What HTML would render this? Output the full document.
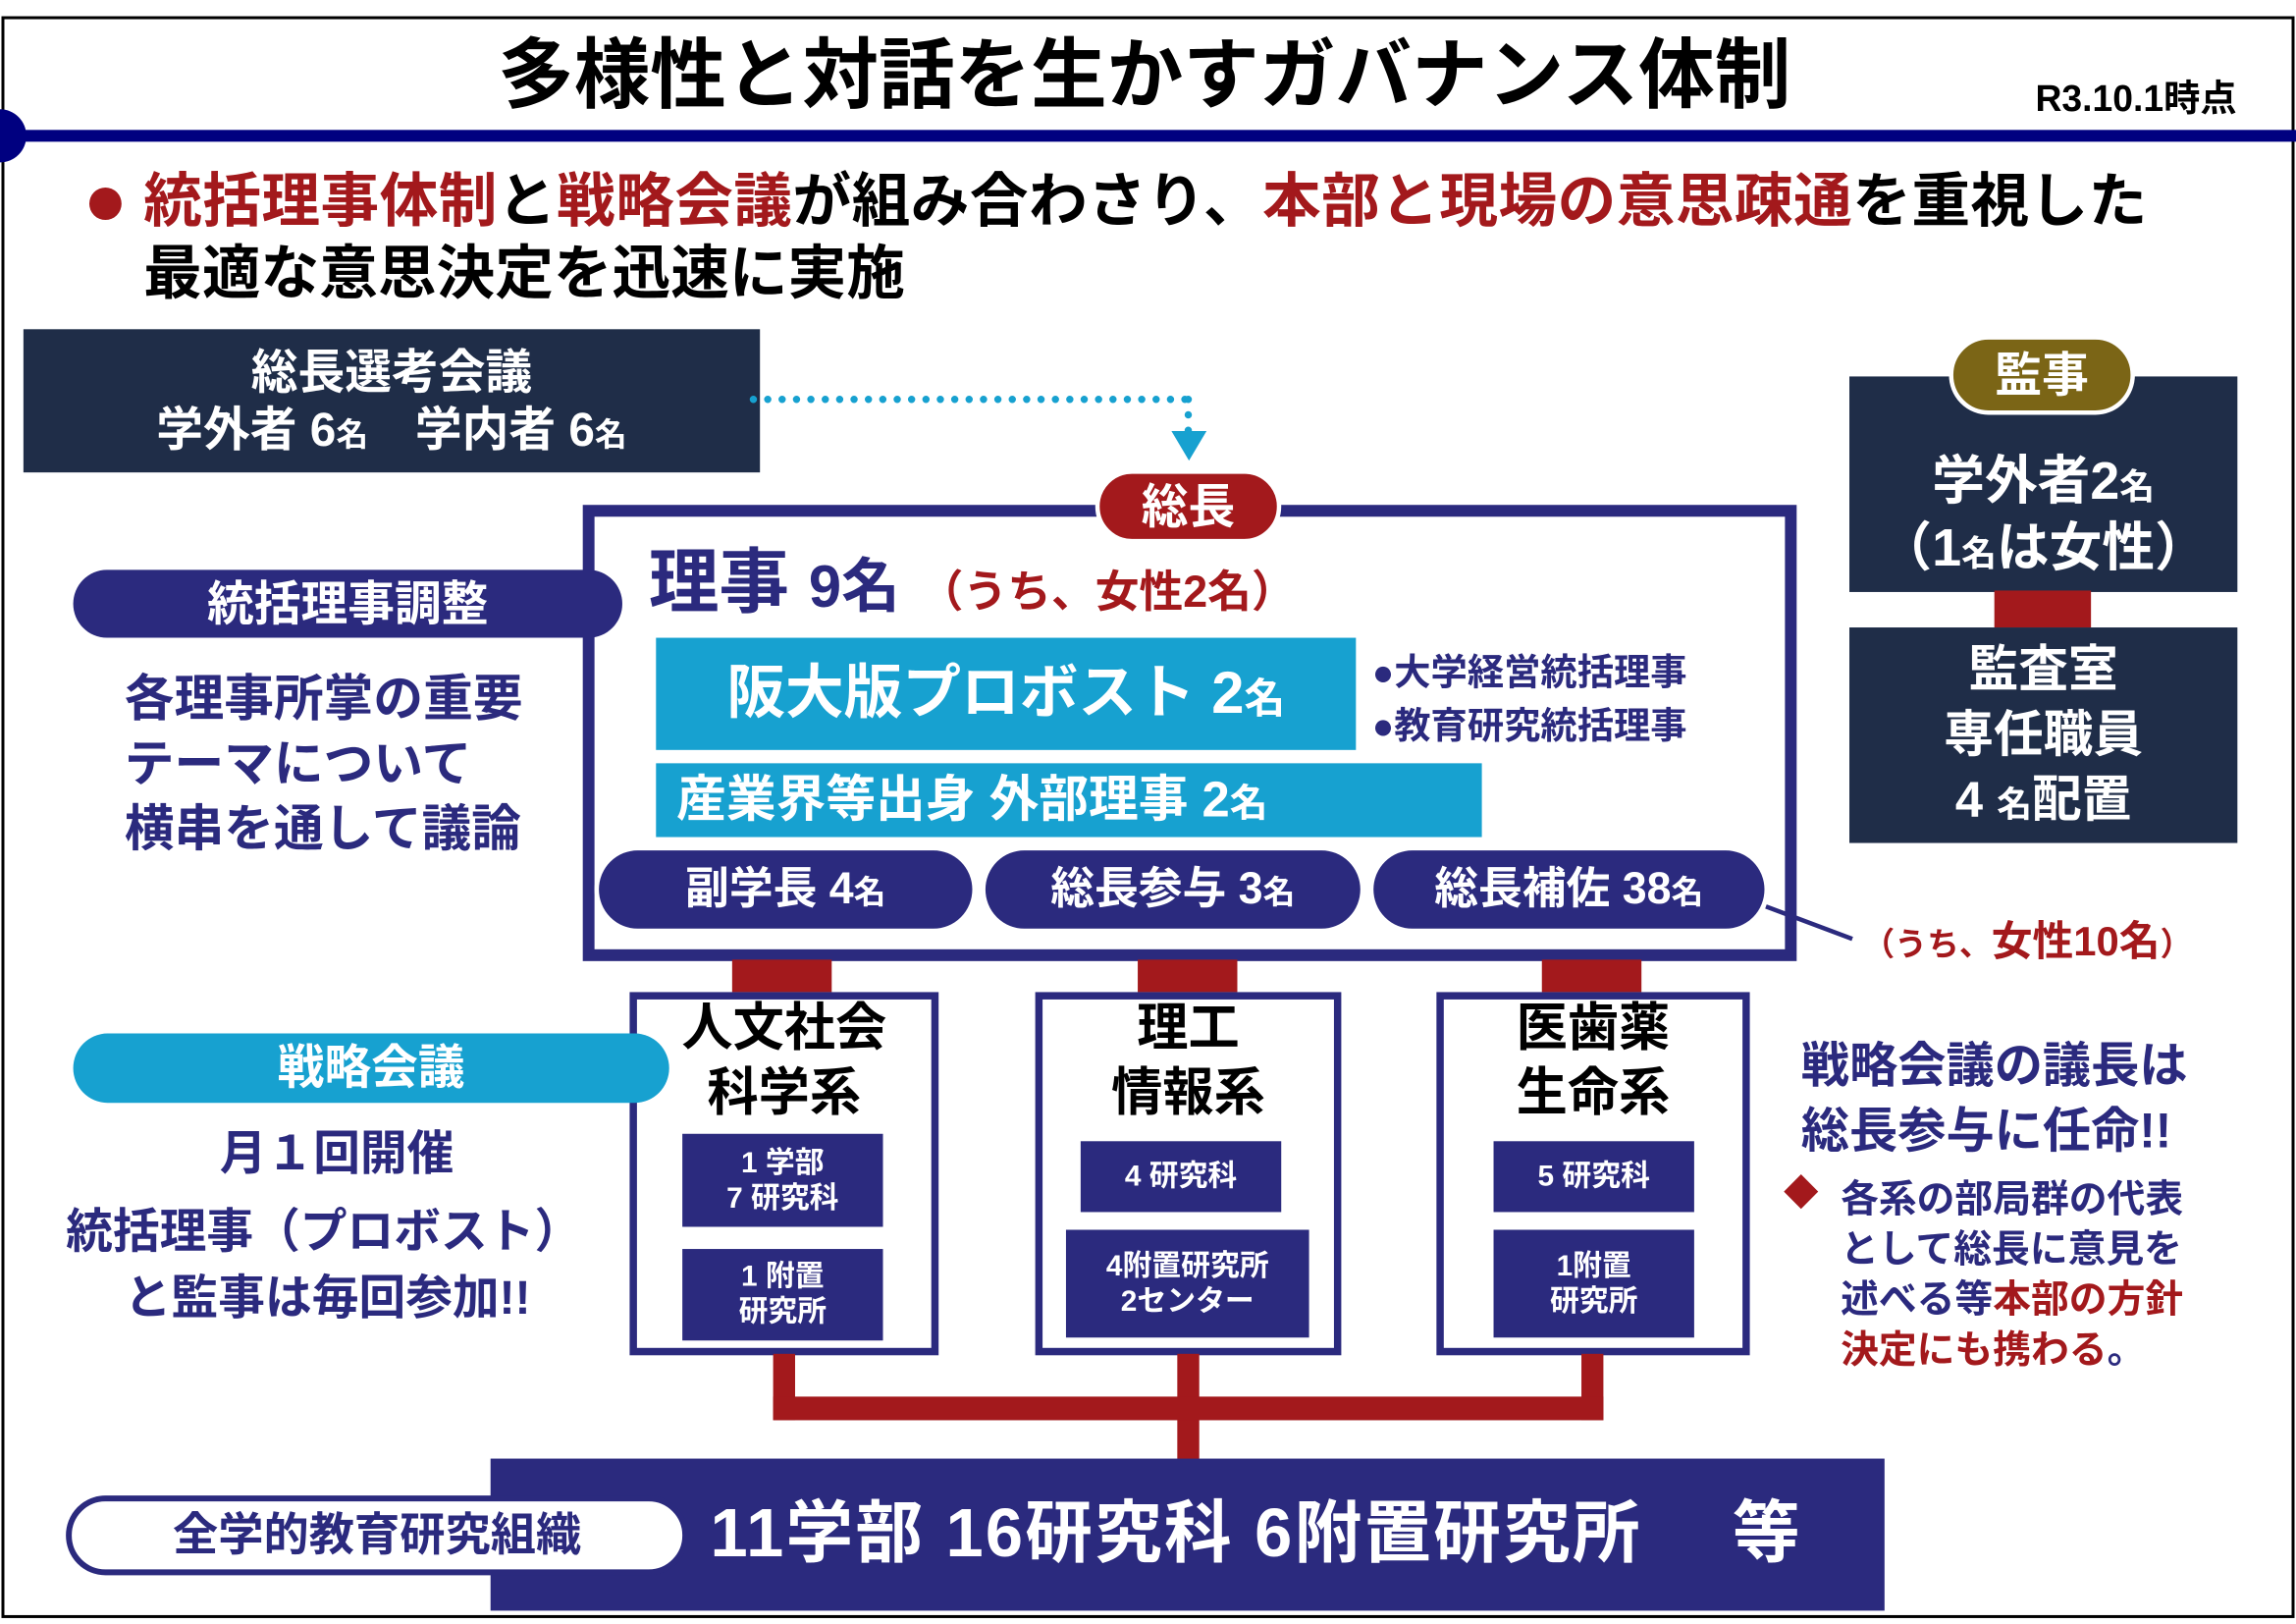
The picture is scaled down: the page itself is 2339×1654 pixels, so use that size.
<!DOCTYPE html>
<html><head><meta charset="utf-8"><style>
html,body{margin:0;padding:0;background:#fff;overflow:hidden}
#wrap{position:absolute;left:0;top:0;width:1568px;height:1100px;transform-origin:0 0;transform:scale(1.4917,1.5036);font-family:"Liberation Sans","Noto Sans CJK JP",sans-serif;font-weight:bold}
.a{position:absolute;box-sizing:border-box}
.t{position:absolute;line-height:1;white-space:nowrap}
.c{display:flex;align-items:center;justify-content:center;text-align:center;line-height:1.2}
.c>div{white-space:nowrap}
.nv{color:#2b2a7e}.rd{color:#a3191c}.w{color:#fff}
</style></head><body><div id="wrap">
<div class="a" style="left:1px;top:11px;width:1566px;height:1085px;border:2px solid #000"></div>
<div class="a" style="left:0;top:88px;width:1568px;height:8px;background:#000080"></div>
<div class="a" style="left:-18px;top:74px;width:36px;height:36px;border-radius:50%;background:#000080"></div>
<div class="t" style="left:340px;top:26px;font-size:52px;color:#000">多様性と対話を生かすガバナンス体制</div>
<div class="t" style="left:1390px;top:55px;font-size:25px;color:#000">R3.10.1時点</div>
<div class="a" style="left:61px;top:127px;width:22px;height:22px;border-radius:50%;background:#a3191c"></div>
<div class="t" style="left:98px;top:117px;font-size:40px;color:#000;letter-spacing:0.3px"><span class="rd">統括理事体制</span>と<span class="rd">戦略会議</span>が組み合わさり、<span class="rd">本部と現場の意思疎通</span>を重視した</div>
<div class="t" style="left:98px;top:166px;font-size:40px;color:#000">最適な意思決定を迅速に実施</div>

<div class="a c w" style="left:16px;top:223px;width:503px;height:97px;background:#1f2d48;font-size:32px;line-height:1.2"><div>総長選考会議<br>学外者 6<span style="font-size:22px">名</span>　学内者 6<span style="font-size:22px">名</span></div></div>
<div class="a" style="left:512px;top:268px;width:300px;height:0;border-top:5px dotted #17a1d0"></div>
<div class="a" style="left:809px;top:268px;width:0;height:26px;border-left:5px dotted #17a1d0"></div>
<div class="a" style="left:800px;top:292px;width:0;height:0;border-left:12px solid transparent;border-right:12px solid transparent;border-top:20px solid #17a1d0"></div>

<div class="a" style="left:398px;top:342px;width:829px;height:309px;border:8px solid #2b2a7e;background:#fff"></div>
<div class="a c w" style="left:748px;top:318px;width:127px;height:50px;border-radius:25px;background:#a3191c;border:3px solid #fff;font-size:32px"><div>総長</div></div>
<div class="t nv" style="left:443px;top:372px;font-size:48px">理事 <span style="font-size:40px">9名</span> <span class="rd" style="font-size:30px">（うち、女性2名）</span></div>
<div class="a c w" style="left:448px;top:432px;width:478px;height:76px;background:#17a1d0;font-size:40px"><div>阪大版プロボスト 2<span style="font-size:28px">名</span></div></div>
<div class="t nv" style="left:937px;top:438px;font-size:25px;line-height:1.45">●大学経営統括理事<br>●教育研究統括理事</div>
<div class="a w" style="left:448px;top:517px;width:564px;height:50px;background:#17a1d0;font-size:34px;line-height:50px;padding-left:14px;white-space:nowrap">産業界等出身 外部理事 2<span style="font-size:26px">名</span></div>
<div class="a c w" style="left:406px;top:573px;width:261px;height:59px;border-radius:30px;background:#2b2a7e;border:3px solid #fff;font-size:30px"><div>副学長 4<span style="font-size:22px">名</span></div></div>
<div class="a c w" style="left:670px;top:573px;width:262px;height:59px;border-radius:30px;background:#2b2a7e;border:3px solid #fff;font-size:30px"><div>総長参与 3<span style="font-size:22px">名</span></div></div>
<div class="a c w" style="left:935px;top:573px;width:273px;height:59px;border-radius:30px;background:#2b2a7e;border:3px solid #fff;font-size:30px"><div>総長補佐 38<span style="font-size:22px">名</span></div></div>
<svg class="a" style="left:0;top:0" width="1568" height="1100"><line x1="1206" y1="614" x2="1265" y2="636" stroke="#2b2a7e" stroke-width="3"/></svg>
<div class="t rd" style="left:1272px;top:624px;font-size:28px"><span style="font-size:22px">（うち、</span>女性10名<span style="font-size:22px">）</span></div>

<div class="a c w" style="left:50px;top:386px;width:375px;height:46px;border-radius:23px;background:#2b2a7e;font-size:32px"><div>統括理事調整</div></div>
<div class="t nv" style="left:85px;top:452px;font-size:34px;line-height:44px">各理事所掌の重要<br>テーマについて<br>横串を通して議論</div>

<div class="a c w" style="left:1263px;top:255px;width:265px;height:146px;background:#1f2d48;font-size:36px;padding-top:40px;line-height:1.25"><div>学外者2<span style="font-size:24px">名</span><br>（1<span style="font-size:24px">名</span>は女性）</div></div>
<div class="a c w" style="left:1331px;top:227px;width:127px;height:54px;border-radius:27px;background:#7b6516;border:3px solid #fff;font-size:32px"><div>監事</div></div>
<div class="a" style="left:1362px;top:400px;width:66px;height:25px;background:#a3191c"></div>
<div class="a c w" style="left:1263px;top:425px;width:265px;height:146px;background:#1f2d48;font-size:34px;line-height:1.3"><div>監査室<br>専任職員<br>4 <span style="font-size:24px">名</span>配置</div></div>

<div class="a" style="left:500px;top:650px;width:68px;height:24px;background:#a3191c"></div>
<div class="a" style="left:777px;top:650px;width:68px;height:24px;background:#a3191c"></div>
<div class="a" style="left:1053px;top:650px;width:68px;height:24px;background:#a3191c"></div>

<div class="a" style="left:430px;top:672px;width:211px;height:246px;border:5px solid #2b2a7e;background:#fff"></div>
<div class="a" style="left:707px;top:672px;width:209px;height:246px;border:5px solid #2b2a7e;background:#fff"></div>
<div class="a" style="left:981px;top:672px;width:214px;height:246px;border:5px solid #2b2a7e;background:#fff"></div>
<div class="a c" style="left:430px;top:674px;width:211px;height:90px;font-size:35px;color:#000;line-height:1.25"><div>人文社会<br>科学系</div></div>
<div class="a c" style="left:707px;top:674px;width:209px;height:90px;font-size:35px;color:#000;line-height:1.25"><div>理工<br>情報系</div></div>
<div class="a c" style="left:981px;top:674px;width:214px;height:90px;font-size:35px;color:#000;line-height:1.25"><div>医歯薬<br>生命系</div></div>
<div class="a c w" style="left:466px;top:768px;width:137px;height:63px;background:#2b2a7e;font-size:20px"><div>1 学部<br>7 研究科</div></div>
<div class="a c w" style="left:466px;top:846px;width:137px;height:62px;background:#2b2a7e;font-size:20px"><div>1 附置<br>研究所</div></div>
<div class="a c w" style="left:738px;top:773px;width:137px;height:48px;background:#2b2a7e;font-size:20px"><div>4 研究科</div></div>
<div class="a c w" style="left:728px;top:833px;width:166px;height:73px;background:#2b2a7e;font-size:20px"><div>4附置研究所<br>2センター</div></div>
<div class="a c w" style="left:1020px;top:773px;width:137px;height:48px;background:#2b2a7e;font-size:20px"><div>5 研究科</div></div>
<div class="a c w" style="left:1020px;top:833px;width:137px;height:73px;background:#2b2a7e;font-size:20px"><div>1附置<br>研究所</div></div>

<div class="a" style="left:528px;top:917px;width:15px;height:45px;background:#a3191c"></div>
<div class="a" style="left:804px;top:917px;width:15px;height:72px;background:#a3191c"></div>
<div class="a" style="left:1080px;top:917px;width:15px;height:45px;background:#a3191c"></div>
<div class="a" style="left:528px;top:946px;width:567px;height:16px;background:#a3191c"></div>

<div class="a" style="left:335px;top:988px;width:952px;height:103px;background:#2b2a7e"></div>
<div class="t w" style="left:485px;top:1015px;font-size:46px;letter-spacing:1.5px">11学部 16研究科 6附置研究所　 等</div>
<div class="a c nv" style="left:45px;top:1013px;width:425px;height:54px;border-radius:27px;background:#fff;border:4px solid #2b2a7e;font-size:31px"><div>全学的教育研究組織</div></div>

<div class="a c w" style="left:50px;top:700px;width:407px;height:47px;border-radius:24px;background:#17a1d0;font-size:32px"><div>戦略会議</div></div>
<div class="t nv" style="left:50px;top:765px;width:360px;text-align:center;font-size:32px">月１回開催</div>
<div class="t nv" style="left:45px;top:818px;font-size:32px">統括理事（プロボスト）</div>
<div class="t nv" style="left:85px;top:863px;font-size:32px">と監事は毎回参加!!</div>

<div class="t nv" style="left:1230px;top:700px;font-size:33px;line-height:44px">戦略会議の議長は<br>総長参与に任命!!</div>
<div class="t rd" style="left:1218px;top:797px;font-size:24px">◆</div>
<div class="t nv" style="left:1257px;top:795px;font-size:26px;line-height:34px">各系の部局群の代表<br>として総長に意見を<br>述べる等<span class="rd">本部の方針</span><br><span class="rd">決定にも携わる</span>。</div>
</div></body></html>
